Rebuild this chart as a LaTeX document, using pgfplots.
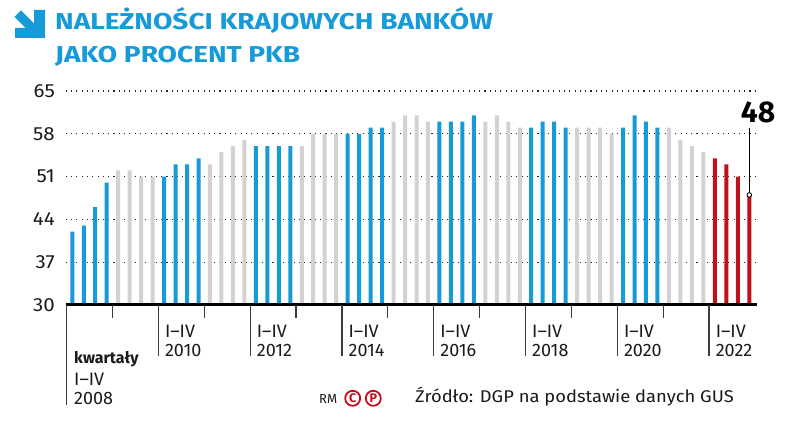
\documentclass[border=0pt]{standalone}
\usepackage{pgfplots}
\pgfplotsset{compat=1.18}
\usepackage{fontspec}
\setmainfont{Fira Sans}
\newfontfamily\titlefont[FakeStretch=1.22]{Fira Sans}
\newfontfamily\srcfont[FakeStretch=1.08]{Fira Sans}
\definecolor{dgpblue}{RGB}{22,154,216}
\definecolor{dgpgray}{RGB}{210,210,210}
\definecolor{dgpred}{RGB}{192,16,28}
\definecolor{txt}{RGB}{26,26,26}
\begin{document}
\begin{tikzpicture}[x=1pt,y=1pt]
\useasboundingbox (0,0) rectangle (788,-422);
% title icon
\fill[dgpblue] (14.5,-17) -- (21,-10.5) -- (34,-23.5) -- (34,-10) -- (45,-10) -- (45,-38) -- (15,-38) -- (15,-28) -- (25.5,-28) -- cycle;
\node[anchor=base west, inner sep=0pt, text=dgpblue, font=\titlefont\bfseries\fontsize{23}{23}\selectfont] at (55,-30) {NALEŻNOŚCI KRAJOWYCH BANKÓW};
\node[anchor=base west, inner sep=0pt, text=dgpblue, font=\titlefont\bfseries\fontsize{23}{23}\selectfont] at (55,-62.7) {JAKO PROCENT PKB};
\begin{axis}[
  at={(65.7pt,-305pt)}, anchor=south west,
  scale only axis, width=691pt, height=214pt,
  xmin=-0.575, xmax=59.65, ymin=30, ymax=65,
  axis line style={draw=none},
  xtick=\empty,
  ytick={30,37,44,51,58,65},
  ytick style={draw=none},
  ymajorgrids,
  grid style={black!85, line width=1.2pt, dash pattern=on 1.1pt off 4.2pt},
  yticklabel style={anchor=east, inner sep=0pt, xshift=-10.7pt, text=txt, font=\srcfont\fontsize{19}{19}\selectfont},
  /pgf/number format/assume math mode=true,
  ybar, bar width=4pt,
]
\addplot[draw=none, fill=dgpblue, bar shift=0pt] coordinates {
(0,42)(1,43)(2,46)(3,50)
(8,51)(9,53)(10,53)(11,54)
(16,56)(17,56)(18,56)(19,56)
(24,58)(25,58)(26,59)(27,59)
(32,60)(33,60)(34,60)(35,61)
(40,59)(41,60)(42,60)(43,59)
(48,59)(49,61)(50,60)(51,59)};
\addplot[draw=none, fill=dgpgray, bar shift=0pt] coordinates {
(4,52)(5,52)(6,51)(7,51)
(12,53)(13,55)(14,56)(15,57)
(20,56)(21,58)(22,58)(23,58)
(28,60)(29,61)(30,61)(31,60)
(36,60)(37,61)(38,60)(39,59)
(44,59)(45,59)(46,59)(47,58)
(52,59)(53,57)(54,56)(55,55)};
\addplot[draw=none, fill=dgpred, bar shift=0pt] coordinates {
(56,54)(57,53)(58,51)(59,48)};
\coordinate (L) at (axis cs:-0.575,30);
\coordinate (R) at (axis cs:59.65,30);
\coordinate (T0) at (axis cs:-0.5,30);
\coordinate (T1) at (axis cs:7.5,30);
\coordinate (T2) at (axis cs:15.5,30);
\coordinate (T3) at (axis cs:23.5,30);
\coordinate (T4) at (axis cs:31.5,30);
\coordinate (T5) at (axis cs:39.5,30);
\coordinate (T6) at (axis cs:47.5,30);
\coordinate (T7) at (axis cs:55.5,30);
\coordinate (S1) at (axis cs:3.5,30);
\coordinate (S2) at (axis cs:11.5,30);
\coordinate (S3) at (axis cs:19.5,30);
\coordinate (S4) at (axis cs:27.5,30);
\coordinate (S5) at (axis cs:35.5,30);
\coordinate (S6) at (axis cs:43.5,30);
\coordinate (S7) at (axis cs:51.5,30);
\coordinate (P48) at (axis cs:59,48);
\end{axis}
% baseline
\draw[line width=3pt, black] (L) -- (R);
% ticks
\draw[line width=1.2pt, txt!85] (T0) -- ([yshift=-100pt]T0);
\foreach \n in {T1,T2,T3,T4,T5,T6,T7} {
  \draw[line width=1.2pt, txt!85] (\n) -- ([yshift=-51pt]\n);
}
\foreach \n in {S1,S2,S3,S4,S5,S6,S7} {
  \draw[line width=1.2pt, txt!85] (\n) -- ([yshift=-13pt]\n);
}
% year labels
\foreach \n/\yr in {T1/2010,T2/2012,T3/2014,T4/2016,T5/2018,T6/2020,T7/2022} {
  \node[anchor=north west, align=left, inner sep=0pt, text=txt, font=\fontsize{18}{18.7}\selectfont] at ([xshift=6.5pt,yshift=-20pt]\n) {I--IV\\\yr};
}
% 48 callout
\draw[line width=1pt, black] (P48) -- ([yshift=67pt]P48);
\draw[line width=0.9pt, black, fill=white] (P48) circle (2.3pt);
\node[anchor=base, inner sep=0pt, text=black, font=\bfseries\fontsize{30}{30}\selectfont] at (758,-122.7) {48};
% 2008 label
\node[anchor=base west, inner sep=0pt, text=txt, font=\bfseries\fontsize{16}{16}\selectfont] at (74,-363) {kwartały};
\node[anchor=north west, align=left, inner sep=0pt, text=txt, font=\fontsize{18}{18.7}\selectfont] at (74,-373) {I--IV\\2008};
% credits
\node[anchor=base west, inner sep=0pt, text=txt, font=\fontsize{13}{13}\selectfont] at (319,-403.5) {RM};
\node[circle, draw=dgpred, line width=1.8pt, minimum size=15pt, inner sep=0pt, text=dgpred, font=\bfseries\fontsize{12.5}{12.5}\selectfont] at (352.7,-398.3) {C};
\node[circle, draw=dgpred, line width=1.8pt, minimum size=15pt, inner sep=0pt, text=dgpred, font=\bfseries\fontsize{12.5}{12.5}\selectfont] at (373.3,-398.3) {P};
\node[anchor=base west, inner sep=0pt, text=txt, font=\srcfont\fontsize{17}{17}\selectfont] at (415,-402.7) {Źródło: DGP na podstawie danych GUS};
\end{tikzpicture}
\end{document}
